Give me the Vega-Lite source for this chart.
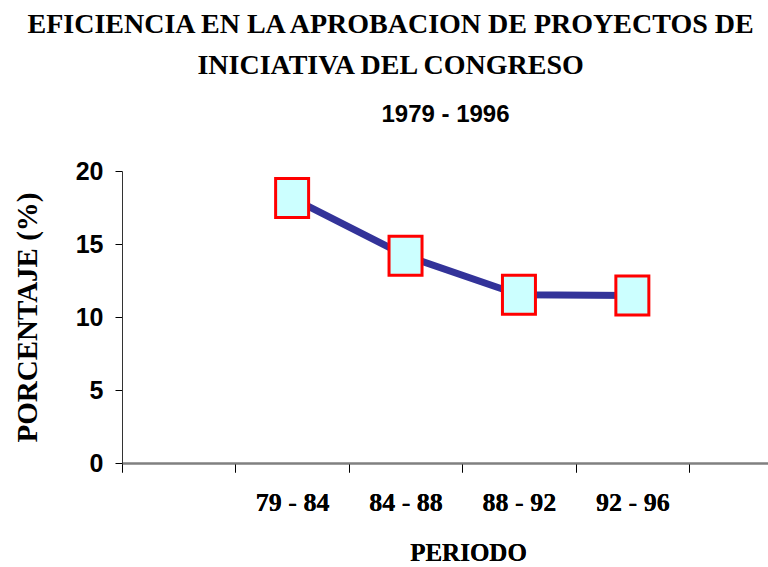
{
  "$schema": "https://vega.github.io/schema/vega-lite/v6.json",
  "width": 646,
  "height": 292,
  "autosize": {"type": "none"},
  "padding": {"left": 122, "top": 171, "right": 0, "bottom": 104},
  "background": "white",
  "config": {"view": {"stroke": null}},
  "title": {
    "text": ["EFICIENCIA EN LA APROBACION DE PROYECTOS DE", "INICIATIVA DEL CONGRESO"],
    "font": "Liberation Serif",
    "fontSize": 28,
    "fontWeight": "bold",
    "color": "black",
    "anchor": "middle",
    "frame": "bounds",
    "lineHeight": 41,
    "offset": 22
  },
  "data": {
    "values": [
      {"periodo": "79 - 84", "valor": 18.15},
      {"periodo": "84 - 88", "valor": 14.2},
      {"periodo": "88 - 92", "valor": 11.53},
      {"periodo": "92 - 96", "valor": 11.47}
    ]
  },
  "encoding": {
    "x": {
      "field": "periodo",
      "type": "nominal",
      "sort": null,
      "scale": {"type": "band", "domain": [" ", "79 - 84", "84 - 88", "88 - 92", "92 - 96"], "paddingInner": 0, "paddingOuter": 0.348, "align": 0},
      "axis": {
        "orient": "bottom",
        "title": "PERIODO",
        "tickBand": "extent",
        "labelAngle": 0,
        "labelFont": "Liberation Serif",
        "labelFontSize": 26,
        "labelFontWeight": "bold",
        "labelColor": "black",
        "labelPadding": 17,
        "tickSize": 9,
        "tickColor": "black",
        "domainColor": "#808080",
        "domainWidth": 2,
        "grid": false,
        "titleFont": "Liberation Serif",
        "titleFontSize": 25,
        "titleFontWeight": "bold",
        "titleColor": "black",
        "titlePadding": 25,
        "titleX": 346
      }
    },
    "y": {
      "field": "valor",
      "type": "quantitative",
      "scale": {"domain": [0, 20]},
      "axis": {
        "values": [0, 5, 10, 15, 20],
        "title": "PORCENTAJE (%)",
        "grid": false,
        "labelFont": "Liberation Sans",
        "labelFontSize": 25,
        "labelFontWeight": "bold",
        "labelColor": "black",
        "labelPadding": 12,
        "tickSize": 7,
        "tickColor": "black",
        "domainColor": "#333333",
        "domainWidth": 1,
        "titleFont": "Liberation Serif",
        "titleFontSize": 29,
        "titleFontWeight": "bold",
        "titleColor": "black",
        "titlePadding": 33
      }
    }
  },
  "layer": [
    {"mark": {"type": "line", "color": "#333399", "strokeWidth": 7}},
    {"mark": {"type": "point", "shape": "M-0.846,-1L0.846,-1L0.846,1L-0.846,1Z", "size": 1521, "filled": true, "fill": "#CCFFFF", "stroke": "#FF0000", "strokeWidth": 3, "opacity": 1}},
    {
      "mark": {"type": "rule", "opacity": 0},
      "encoding": {
        "x": {
          "field": "periodo",
          "type": "nominal",
          "sort": null,
          "axis": {
            "orient": "top",
            "title": "1979 - 1996",
            "labels": false,
            "ticks": false,
            "domain": false,
            "grid": false,
            "titleFont": "Liberation Sans",
            "titleFontSize": 24,
            "titleFontWeight": "bold",
            "titleColor": "black",
            "titlePadding": 45
          }
        }
      }
    }
  ],
  "resolve": {"axis": {"x": "independent"}}
}
